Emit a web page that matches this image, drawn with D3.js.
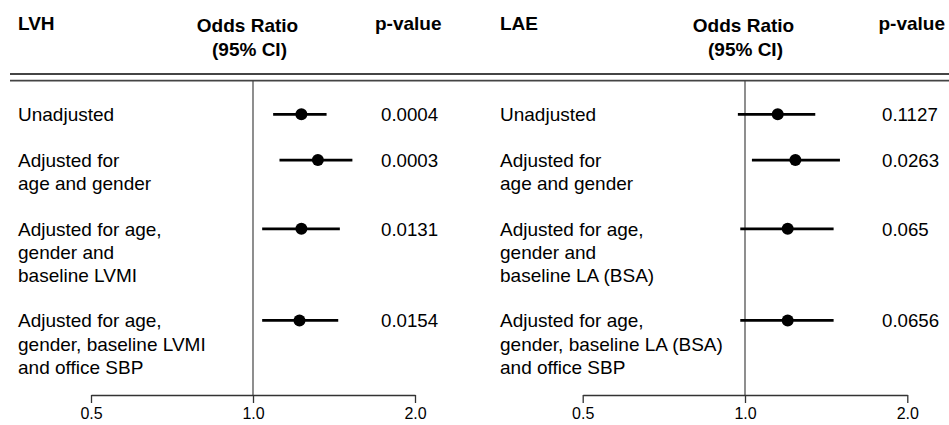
<!DOCTYPE html>
<html><head><meta charset="utf-8">
<script src="https://cdn.jsdelivr.net/npm/d3@7"></script>
<style>
html,body{margin:0;padding:0;background:#fff;}
svg{display:block;font-family:"Liberation Sans",Arial,sans-serif;}
</style></head>
<body>
<svg id="chart" width="949" height="425"></svg>
<script>
// ---- data ----
const rowLabels = [
  ["Unadjusted"],
  ["Adjusted for", "age and gender"],
  ["Adjusted for age,", "gender and", "baseline LVMI"],
  ["Adjusted for age,", "gender, baseline LVMI", "and office SBP"]
];
const rowLabelsLAE = [
  ["Unadjusted"],
  ["Adjusted for", "age and gender"],
  ["Adjusted for age,", "gender and", "baseline LA (BSA)"],
  ["Adjusted for age,", "gender, baseline LA (BSA)", "and office SBP"]
];
const lvhOR   = [1.23, 1.32, 1.23, 1.22];
const lvhLow  = [1.09, 1.12, 1.04, 1.04];
const lvhHigh = [1.37, 1.53, 1.45, 1.44];
const lvhP    = ["0.0004", "0.0003", "0.0131", "0.0154"];

const laeOR   = [1.15, 1.24, 1.20, 1.20];
const laeLow  = [0.97, 1.03, 0.98, 0.98];
const laeHigh = [1.35, 1.50, 1.46, 1.46];
const laeP    = ["0.1127", "0.0263", "0.065", "0.0656"];

const tickValues = [0.5, 1.0, 2.0];
const panelTitles = ["LVH", "LAE"];

// ---- layout ----
const svg = d3.select("#chart");
const lineUnit = 22.9;
const firstRowY = 114.3;
const axisY = 395;

// double header rule
[74, 80.7].forEach(y => {
  svg.append("line").attr("x1", 10).attr("x2", 949).attr("y1", y).attr("y2", y)
    .attr("stroke", "#444").attr("stroke-width", 1.8);
});

function drawPanel(cfg) {
  const g = svg.append("g");
  const x = d3.scaleLog().domain([0.5, 2]).range(cfg.range);

  // row positions from cumulative line counts
  const rowY = [];
  let idx = 0;
  cfg.labels.forEach(l => { rowY.push(firstRowY + idx * lineUnit); idx += l.length + 1; });

  // headers
  g.append("text").attr("x", cfg.labelX).attr("y", 30).text(cfg.title)
    .attr("font-size", 19).attr("font-weight", "bold");
  g.append("text").attr("x", cfg.orX).attr("y", cfg.orY).attr("text-anchor", "middle")
    .attr("font-size", 19).attr("font-weight", "bold").text("Odds Ratio");
  g.append("text").attr("x", cfg.orX + 2).attr("y", cfg.orY + 24).attr("text-anchor", "middle")
    .attr("font-size", 19).attr("font-weight", "bold").text("(95% CI)");
  g.append("text").attr("x", cfg.pHeadX).attr("y", 30)
    .attr("font-size", 19).attr("font-weight", "bold").text("p-value");

  // reference line at 1
  g.append("line").attr("x1", x(1)).attr("x2", x(1)).attr("y1", 81).attr("y2", axisY)
    .attr("stroke", "#444").attr("stroke-width", 1.2);

  // axis
  const axis = d3.axisBottom(x).tickValues(tickValues).tickFormat(d3.format(".1f"))
    .tickSize(8).tickSizeOuter(0).tickPadding(5);
  const ag = g.append("g").attr("transform", `translate(0,${axisY})`).call(axis);
  ag.selectAll("path,line").attr("stroke", "#333").attr("stroke-width", 1.3);
  ag.selectAll("text").attr("font-size", 16).attr("fill", "#000")
    .attr("font-family", "'Liberation Sans',Arial,sans-serif");

  // row labels
  cfg.labels.forEach((lines, i) => {
    const t = g.append("text").attr("font-size", 19).attr("fill", "#000");
    lines.forEach((s, j) => {
      t.append("tspan").attr("x", cfg.labelX).attr("y", rowY[i] + 6.8 + j * 23.3).text(s);
    });
  });

  // CI lines + points
  g.selectAll("line.ci").data(cfg.or).enter().append("line").attr("class", "ci")
    .attr("x1", (d, i) => x(cfg.low[i])).attr("x2", (d, i) => x(cfg.high[i]))
    .attr("y1", (d, i) => rowY[i]).attr("y2", (d, i) => rowY[i])
    .attr("stroke", "#000").attr("stroke-width", 2.8);
  g.selectAll("circle.pt").data(cfg.or).enter().append("circle").attr("class", "pt")
    .attr("cx", d => x(d)).attr("cy", (d, i) => rowY[i]).attr("r", 6).attr("fill", "#000");

  // p-values
  g.selectAll("text.pv").data(cfg.p).enter().append("text").attr("class", "pv")
    .attr("x", cfg.pX).attr("y", (d, i) => rowY[i] + 6.8)
    .attr("font-size", 18.7).text(d => d);
}

drawPanel({
  title: panelTitles[0], labels: rowLabels, range: [91, 415],
  or: lvhOR, low: lvhLow, high: lvhHigh, p: lvhP,
  labelX: 18, orX: 247.5, orY: 31.7, pHeadX: 375, pX: 381
});
drawPanel({
  title: panelTitles[1], labels: rowLabelsLAE, range: [582.7, 907.3],
  or: laeOR, low: laeLow, high: laeHigh, p: laeP,
  labelX: 500, orX: 743.5, orY: 32.3, pHeadX: 878.5, pX: 882
});
</script>
</body></html>
